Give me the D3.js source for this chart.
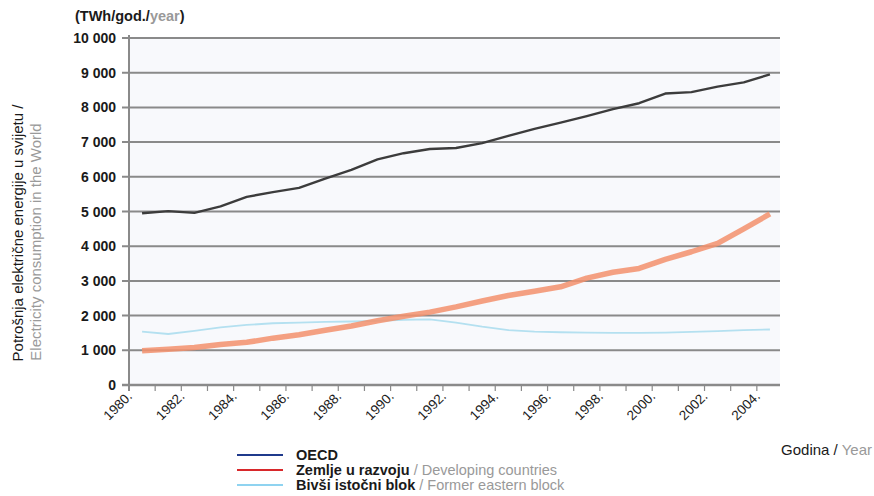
<!DOCTYPE html>
<html><head><meta charset="utf-8">
<script src="https://cdn.jsdelivr.net/npm/d3@7"></script>
<style>
body{margin:0;background:#fff;}
svg{font-family:"Liberation Sans",Arial,Helvetica,sans-serif;}
</style></head>
<body><svg id="c" width="874" height="496"></svg>
<script>
const years = d3.range(1980, 2005);
const oecd = [4950,5010,4960,5150,5420,5560,5680,5950,6200,6500,6680,6800,6830,6970,7180,7380,7560,7750,7950,8120,8400,8440,8600,8720,8950];
const developing = [990,1030,1080,1170,1230,1350,1450,1580,1700,1850,1980,2100,2250,2420,2580,2700,2830,3080,3250,3360,3620,3840,4080,4500,4930];
const eastern = [1540,1470,1560,1660,1730,1780,1800,1820,1830,1850,1880,1890,1800,1680,1580,1540,1520,1510,1500,1500,1510,1530,1550,1580,1600];
const yTicks = [0,1000,2000,3000,4000,5000,6000,7000,8000,9000,10000];
const yTickLabels = ["0","1 000","2 000","3 000","4 000","5 000","6 000","7 000","8 000","9 000","10 000"];
const xLabelYears = d3.range(1980, 2005, 2);
const legendItems = [
  {bold:"OECD", light:"", color:"#1f3a8c"},
  {bold:"Zemlje u razvoju", light:" / Developing countries", color:"#d8282b"},
  {bold:"Bivši istočni blok", light:" / Former eastern block", color:"#8fd3f0"}
];

const svg = d3.select("#c");
const x = d3.scaleBand().domain(years).range([129, 783]).padding(0);
const y = d3.scaleLinear().domain([0, 10000]).range([385, 38]);
const cx = yr => x(yr) + x.bandwidth()/2;

// plot background
svg.append("rect").attr("x",129).attr("y",38).attr("width",651).attr("height",347).attr("fill","#f8f9fc");

// gridlines
svg.append("g").selectAll("line").data(yTicks.slice(1)).join("line")
  .attr("x1",122).attr("x2",780).attr("y1",d=>y(d)).attr("y2",d=>y(d))
  .attr("stroke","#8a8a8a").attr("stroke-width",2);

// y axis line
svg.append("line").attr("x1",129).attr("x2",129).attr("y1",35).attr("y2",391)
  .attr("stroke","#8a8a8a").attr("stroke-width",2);
// x axis line
svg.append("line").attr("x1",122).attr("x2",780).attr("y1",y(0)).attr("y2",y(0))
  .attr("stroke","#8a8a8a").attr("stroke-width",2.5);
// x tick marks
svg.append("g").selectAll("line").data(years).join("line")
  .attr("x1",d=>x(d)).attr("x2",d=>x(d)).attr("y1",385).attr("y2",391)
  .attr("stroke","#8a8a8a").attr("stroke-width",1.2);

// y tick labels
svg.append("g").selectAll("text").data(yTicks).join("text")
  .attr("x",116).attr("y",d=>y(d)+5).attr("text-anchor","end")
  .attr("font-size",14).attr("font-weight","bold").attr("fill","#1a1a1a")
  .text((d,i)=>yTickLabels[i]);

// x labels
svg.append("g").selectAll("text").data(xLabelYears).join("text")
  .attr("transform",d=>`translate(${x(d)+4},${397}) rotate(-45)`)
  .attr("text-anchor","end").attr("font-size",13.5).attr("fill","#1a1a1a")
  .text(d=>d+".");

// lines
const line = arr => d3.line().x((d,i)=>cx(years[i])).y(d=>y(d)).curve(d3.curveLinear)(arr);
svg.append("path").attr("d",line(eastern)).attr("fill","none")
  .attr("stroke","#b4e0f0").attr("stroke-width",1.8).attr("stroke-linejoin","round");
svg.append("path").attr("d",line(developing)).attr("fill","none")
  .attr("stroke","#f3906c").attr("stroke-width",5.5).attr("stroke-opacity",0.85).attr("stroke-linejoin","round");
svg.append("path").attr("d",line(oecd)).attr("fill","none")
  .attr("stroke","#3c3c3c").attr("stroke-width",2.4).attr("stroke-linejoin","round");

// unit label
const u = svg.append("text").attr("x",75).attr("y",21).attr("font-size",14.5).attr("font-weight","bold").attr("fill","#1a1a1a");
u.append("tspan").text("(TWh/god./");
u.append("tspan").attr("fill","#999").text("year");
u.append("tspan").text(")");

// y title
svg.append("text").attr("transform","translate(23,233) rotate(-90)").attr("text-anchor","middle")
  .attr("font-size",15).attr("fill","#1a1a1a").text("Potrošnja električne  energije u svijetu /");
svg.append("text").attr("transform","translate(41,242) rotate(-90)").attr("text-anchor","middle")
  .attr("font-size",15).attr("fill","#9a9a9a").text("Electricity consumption in the World");

// x title
const xt = svg.append("text").attr("x",872).attr("y",455).attr("text-anchor","end").attr("font-size",15).attr("fill","#1a1a1a");
xt.append("tspan").text("Godina / ");
xt.append("tspan").attr("fill","#999").text("Year");

// legend
const lg = svg.append("g").selectAll("g").data(legendItems).join("g")
  .attr("transform",(d,i)=>`translate(237,${455+i*15})`);
lg.append("line").attr("x1",0).attr("x2",46).attr("y1",0).attr("y2",0)
  .attr("stroke",d=>d.color).attr("stroke-width",2.2);
const lt = lg.append("text").attr("x",59).attr("y",5).attr("font-size",14.5).attr("fill","#1a1a1a");
lt.append("tspan").attr("font-weight","bold").text(d=>d.bold);
lt.append("tspan").attr("fill","#999").text(d=>d.light);
</script></body></html>
